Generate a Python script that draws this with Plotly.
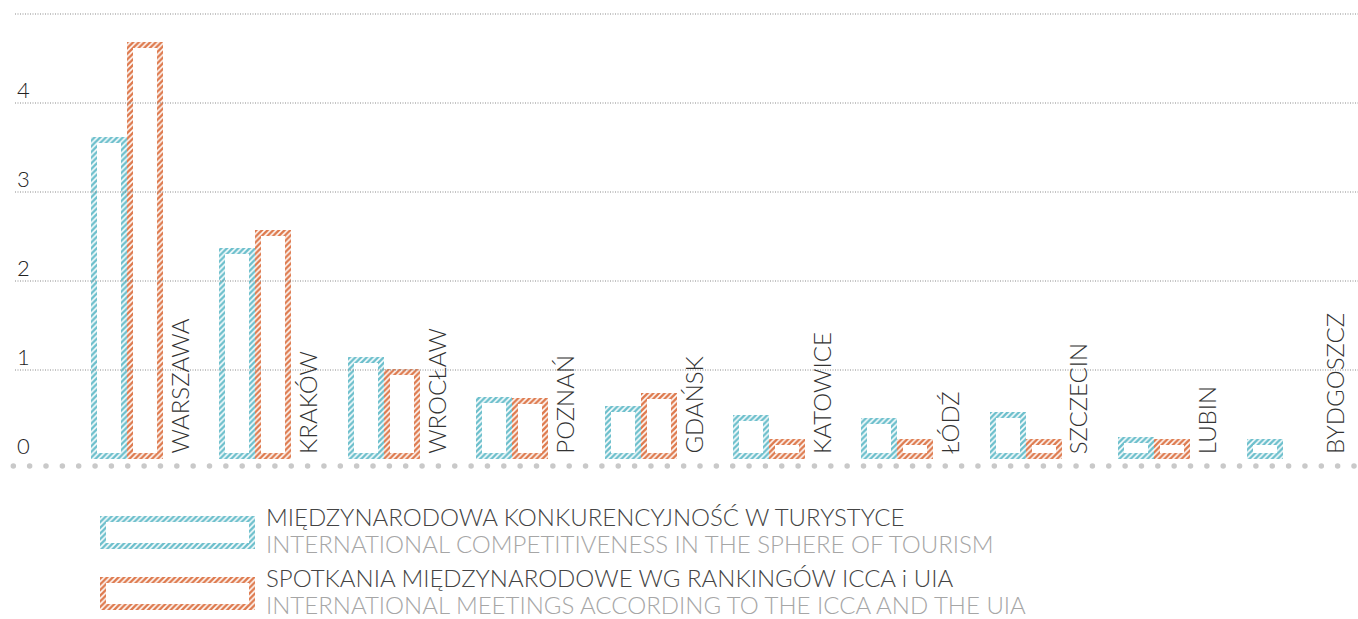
import numpy as np
import plotly.graph_objects as go

# --- data -------------------------------------------------------------
cities = ["WARSZAWA", "KRAKÓW", "WROCŁAW", "POZNAŃ", "GDAŃSK",
          "KATOWICE", "ŁÓDŹ", "SZCZECIN", "LUBIN", "BYDGOSZCZ"]
competitiveness = [3.62, 2.37, 1.15, 0.70, 0.60, 0.49, 0.46, 0.53, 0.25, 0.22]
meetings = [4.69, 2.57, 1.01, 0.69, 0.74, 0.22, 0.22, 0.22, 0.22, 0.0]
y_ticks = [0, 1, 2, 3, 4]
y_grid = [1, 2, 3, 4, 5]

series_names = [
    ("MIĘDZYNARODOWA KONKURENCYJNOŚĆ W TURYSTYCE",
     "INTERNATIONAL COMPETITIVENESS IN THE SPHERE OF TOURISM"),
    ("SPOTKANIA MIĘDZYNARODOWE WG RANKINGÓW ICCA i UIA",
     "INTERNATIONAL MEETINGS ACCORDING TO THE ICCA AND THE UIA"),
]

BLUE = "#6cbfcc"
ORANGE = "#de7a4e"
FONT = "Lato"
W, H = 1358, 619

# --- geometry (pixel scale helpers) ------------------------------------
PX_X = 128.4          # pixels per category
PX_Y = 89.0           # pixels per value unit
X0_PX = 127.0         # pixel position of category 0 (between the pair)
Y0_PX = 459.0         # pixel position of value 0
x_range = [-X0_PX / PX_X, (W - X0_PX) / PX_X]
y_range = [-(H - Y0_PX) / PX_Y, Y0_PX / PX_Y]

bar_w = 36 / PX_X     # bar width in category units
band_x = 6 / PX_X     # hatched band thickness (x)
band_y = 6 / PX_Y     # hatched band thickness (y)

xs = list(range(len(cities)))
fig = go.Figure()

HATCH = dict(shape="/", bgcolor="rgba(0,0,0,0)", size=4, solidity=0.62,
             fgopacity=1)


def hollow_bars(values, color, offset, name):
    # hatched outer bar
    fig.add_trace(go.Bar(
        x=xs, y=values, offset=offset, width=bar_w, name=name,
        marker=dict(color=color, line=dict(width=0),
                    pattern=dict(fgcolor=color, fillmode="replace", **HATCH)),
        showlegend=False, hoverinfo="skip"))
    # white interior
    inner = [max(v - 2 * band_y, 0) for v in values]
    fig.add_trace(go.Bar(
        x=xs, y=inner, base=band_y, offset=offset + band_x,
        width=bar_w - 2 * band_x,
        marker=dict(color="white", line=dict(width=0)),
        showlegend=False, hoverinfo="skip"))


hollow_bars(competitiveness, BLUE, -bar_w, series_names[0][1])
hollow_bars(meetings, ORANGE, 0.0, series_names[1][1])

# dotted gridlines drawn over the bars
shapes = []
for g in y_grid:
    shapes.append(dict(type="line", xref="paper", yref="y",
                       x0=15 / W, x1=1.0, y0=g, y1=g, layer="above",
                       line=dict(color="#8a8a8a", width=1, dash="1px,1.5px")))

annotations = []
# y tick labels
for t in y_ticks:
    annotations.append(dict(x=15 / W, xref="paper", y=t, yref="y", text=str(t),
                            showarrow=False, xanchor="left", yanchor="middle",
                            yshift=14, font=dict(family=FONT, size=22, color="#222",
                                                 weight=300)))
# rotated city labels
for i, c in enumerate(cities):
    annotations.append(dict(x=i + 52 / PX_X, xref="x", y=0, yref="y", text=c,
                            textangle=-90, showarrow=False, xanchor="center",
                            yanchor="bottom", yshift=3,
                            font=dict(family=FONT, size=24, color="#333",
                                      weight=300)))

# baseline of grey dots
dots_x = np.arange(13.3, W, 16.35)
fig.add_trace(go.Scatter(x=dots_x, y=[466] * len(dots_x), mode="markers",
                         marker=dict(size=5.5, color="#c9c9c9"),
                         xaxis="x2", yaxis="y2", showlegend=False,
                         hoverinfo="skip"))


# legend swatches: hatched rectangular rings
def ring(x0, y0, x1, y1, b):
    xo = [x0, x1, x1, x0, x0, x0 + b, x0 + b, x1 - b, x1 - b, x0 + b, x0]
    yo = [y0, y0, y1, y1, y0, y0 + b, y1 - b, y1 - b, y0 + b, y0 + b, y0]
    return xo, yo


for (top, color, (pl, en)) in [(516, BLUE, series_names[0]),
                               (577, ORANGE, series_names[1])]:
    rx, ry = ring(100, top, 255, top + 33, 6)
    fig.add_trace(go.Scatter(x=rx, y=ry, mode="lines", fill="toself",
                             line=dict(width=0, color=color),
                             fillcolor=color,
                             fillpattern=dict(fgcolor=color, fillmode="replace",
                                              **HATCH),
                             xaxis="x2", yaxis="y2", showlegend=False,
                             hoverinfo="skip"))
    annotations.append(dict(x=264, y=top, xref="x2", yref="y2", text=pl,
                            showarrow=False, xanchor="left", yanchor="middle",
                            font=dict(family=FONT, size=24, color="#444", weight=300)))
    annotations.append(dict(x=264, y=top + 27, xref="x2", yref="y2", text=en,
                            showarrow=False, xanchor="left", yanchor="middle",
                            font=dict(family=FONT, size=24, color="#a6a6a6", weight=300)))

fig.update_layout(
    width=W, height=H,
    margin=dict(l=0, r=0, t=0, b=0),
    paper_bgcolor="white", plot_bgcolor="rgba(0,0,0,0)",
    barmode="overlay", bargap=0,
    showlegend=False,
    xaxis=dict(domain=[0, 1], range=x_range, visible=False, fixedrange=True),
    yaxis=dict(domain=[0, 1], range=y_range, visible=False, fixedrange=True),
    xaxis2=dict(domain=[0, 1], range=[0, W], overlaying="x", visible=False,
                anchor="y2"),
    yaxis2=dict(domain=[0, 1], range=[H, 0], overlaying="y", visible=False,
                anchor="x2"),
    shapes=shapes,
    annotations=annotations,
    font=dict(family=FONT),
)

fig.write_html("out.html")
